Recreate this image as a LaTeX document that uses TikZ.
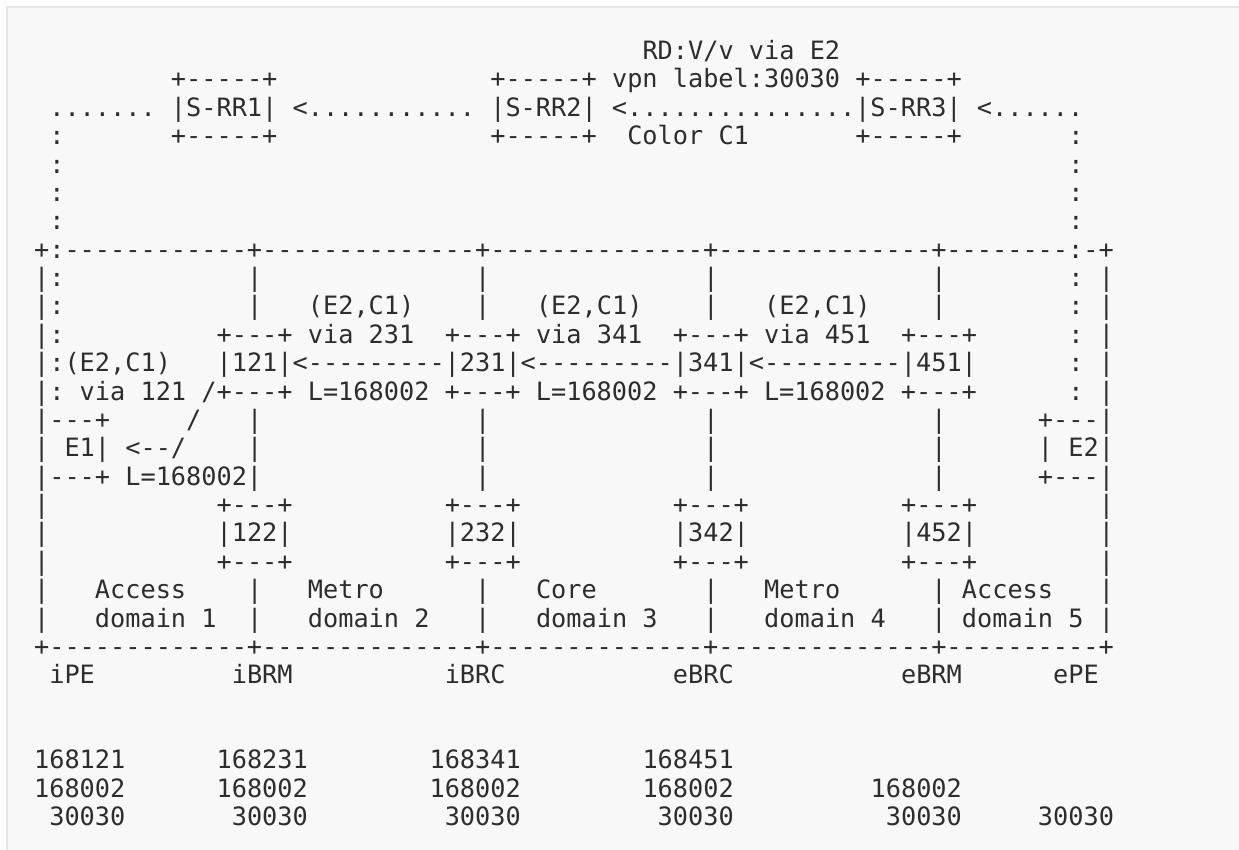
\documentclass[tikz,border=0pt]{standalone}
\usepackage{fontspec}
\setmonofont{DejaVu Sans Mono}
\definecolor{panelG}{RGB}{248,248,248}
\definecolor{edgeG}{RGB}{230,230,230}
\definecolor{inkG}{RGB}{45,45,45}
\newcommand{\chunk}[3]{\node[asc] (r#2c#1) at ({34.1+15.21*#1},{59.5+28.38*#2}) {#3};}

\begin{document}
\begin{tikzpicture}[x=0.5pt,y=-0.5pt,asc/.style={anchor=base west,inner sep=0pt,outer sep=0pt,text=inkG,font=\ttfamily\fontsize{12.63}{15}\selectfont}]
\useasboundingbox (0,0) rectangle (1239,850);
\fill[white] (0,0) rectangle (1239,850); \fill[panelG] (7,7) rectangle (1239,850);
\draw[edgeG,line width=0.6pt] (7,850) -- (7,7) -- (1239,7);
\chunk{40}{0}{RD:V/v via E2}
\chunk{9}{1}{+-----+} \chunk{30}{1}{+-----+ vpn label:30030 +-----+}
\chunk{1}{2}{....... |S-RR1| <........... |S-RR2| <...............|S-RR3| <......}
\chunk{9}{3}{+-----+} \chunk{30}{3}{+-----+} \chunk{39}{3}{Color C1} \chunk{54}{3}{+-----+}
\foreach \rw in {3,...,6} {\chunk{1}{\rw}{:} \chunk{68}{\rw}{:}}
\chunk{0}{7}{+:------------+--------------+--------------+--------------+--------:-+}
\foreach \rw in {8,9,10} {\chunk{0}{\rw}{|:}}
\foreach \rw in {8,...,12} {\chunk{68}{\rw}{: |}}
\foreach \rw in {8,9} {\foreach \cl in {14,29,44,59} {\chunk{\cl}{\rw}{|}}}
\foreach \cl in {18,33,48} {\chunk{\cl}{9}{(E2,C1)}}
\foreach \cl/\v in {12/231,27/341,42/451} {\chunk{\cl}{10}{+---+ via \v}}
\chunk{57}{10}{+---+}
\chunk{0}{11}{|:(E2,C1)} \chunk{12}{11}{|121|<---------|231|<---------|341|<---------|451|}
\chunk{0}{12}{|: via 121 /+---+ L=168002 +---+ L=168002 +---+ L=168002 +---+}
\chunk{0}{13}{|---+} \chunk{10}{13}{/} \chunk{0}{14}{| E1| <--/} \chunk{0}{15}{|---+ L=168002|}
\chunk{14}{13}{|} \chunk{14}{14}{|}
\foreach \rw in {13,14,15} {\foreach \cl in {29,44,59} {\chunk{\cl}{\rw}{|}}}
\chunk{66}{13}{+---|} \chunk{66}{14}{| E2|} \chunk{66}{15}{+---|}
\foreach \rw in {16,17,18} {\chunk{0}{\rw}{|} \chunk{70}{\rw}{|}}
\foreach \cl/\n in {12/122,27/232,42/342,57/452} {\chunk{\cl}{16}{+---+} \chunk{\cl}{17}{|\n|} \chunk{\cl}{18}{+---+}}
\foreach \rw in {19,20} {\foreach \cl in {0,14,29,44} {\chunk{\cl}{\rw}{|}}}
\foreach \cl/\w/\k in {4/Access/1,18/Metro/2,33/Core/3,48/Metro/4} {\chunk{\cl}{19}{\w} \chunk{\cl}{20}{domain \k}}
\chunk{59}{19}{| Access} \chunk{70}{19}{|} \chunk{59}{20}{| domain 5 |}
\chunk{0}{21}{+-------------+--------------+--------------+--------------+----------+}
\foreach \cl/\w in {1/iPE,13/iBRM,27/iBRC,42/eBRC,57/eBRM,67/ePE} {\chunk{\cl}{22}{\w}}
\foreach \cl/\w in {0/168121,12/168231,26/168341,40/168451} {\chunk{\cl}{25}{\w}}
\foreach \cl in {0,12,26,40,55} {\chunk{\cl}{26}{168002}}
\foreach \cl in {1,13,27,41,56,66} {\chunk{\cl}{27}{30030}}
\end{tikzpicture}
\end{document}
